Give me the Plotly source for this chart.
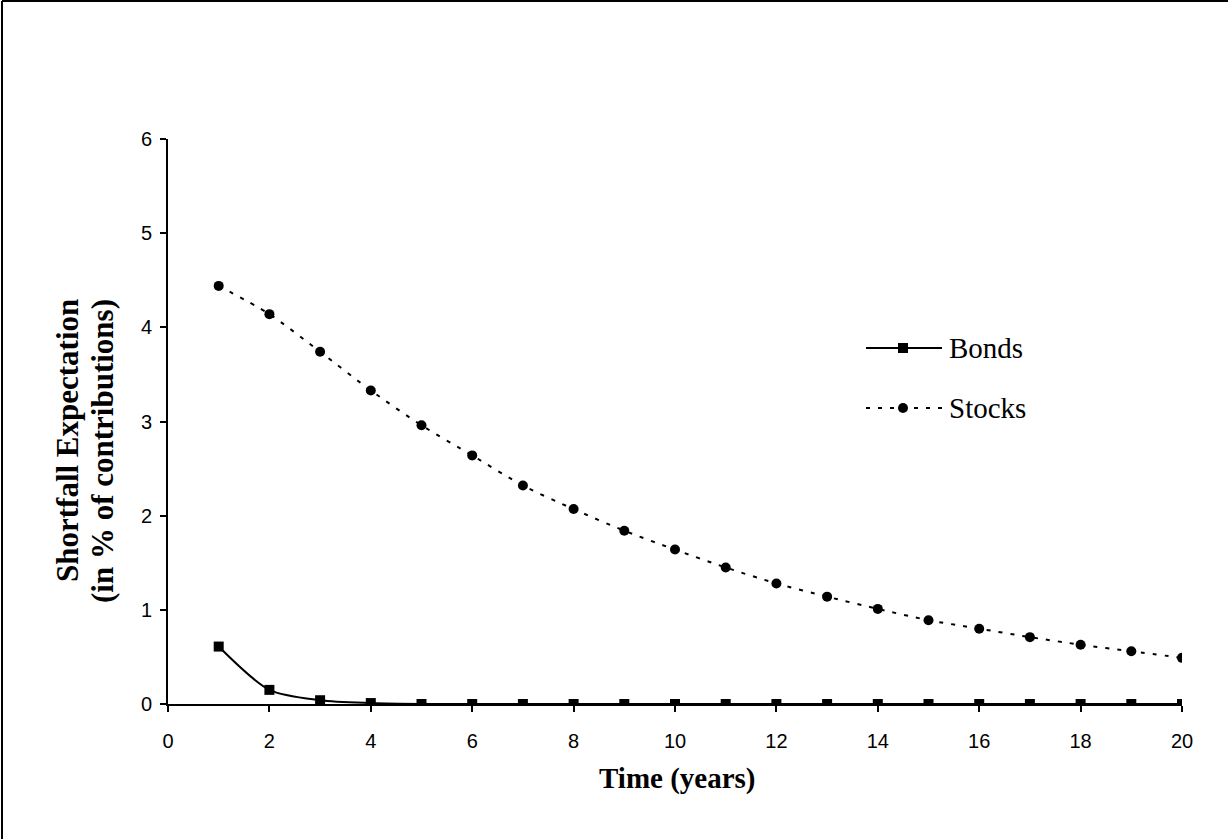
import plotly.graph_objects as go

years = list(range(1, 21))
bonds = [0.61, 0.15, 0.04, 0.01, 0, 0, 0, 0, 0, 0, 0, 0, 0, 0, 0, 0, 0, 0, 0, 0]
stocks = [4.44, 4.14, 3.74, 3.33, 2.96, 2.64, 2.32, 2.07, 1.84, 1.64,
          1.45, 1.28, 1.14, 1.01, 0.89, 0.80, 0.71, 0.63, 0.56, 0.49]
x_ticks = [0, 2, 4, 6, 8, 10, 12, 14, 16, 18, 20]
y_ticks = [0, 1, 2, 3, 4, 5, 6]
series_names = ["Bonds", "Stocks"]

W, H = 1228, 839
L, R, T, B = 168, 1182, 139, 704
pw, ph = R - L, B - T


def px(x):
    return (x - L) / pw


def py(y):
    return (B - y) / ph


DASH = "4px,8px"
fig = go.Figure()
fig.add_trace(go.Scatter(
    x=years, y=bonds, name=series_names[0], mode="lines+markers",
    line=dict(color="black", width=2, shape="spline", smoothing=0.8),
    marker=dict(symbol="square", size=10, color="black")))
fig.add_trace(go.Scatter(
    x=years, y=stocks, name=series_names[1], mode="lines+markers",
    line=dict(color="black", width=2, dash=DASH, shape="spline", smoothing=0.8),
    marker=dict(symbol="circle", size=10, color="black")))

serif = "Liberation Serif, Times New Roman, serif"
sans = "Liberation Sans, Arial, sans-serif"

# manual legend (styling only)
leg_y = [348, 408]
shapes = [
    dict(type="line", xref="paper", yref="paper",
         x0=px(2), x1=px(2), y0=py(1), y1=py(H + 5),
         line=dict(color="black", width=2)),
    dict(type="line", xref="paper", yref="paper",
         x0=px(2), x1=px(W), y0=py(1), y1=py(1),
         line=dict(color="black", width=2)),
    dict(type="line", xref="paper", yref="paper",
         x0=px(866), x1=px(942), y0=py(leg_y[0]), y1=py(leg_y[0]),
         line=dict(color="black", width=2)),
    dict(type="rect", xref="paper", yref="paper",
         x0=px(898), x1=px(908), y0=py(leg_y[0] - 5), y1=py(leg_y[0] + 5),
         line=dict(color="black", width=0), fillcolor="black"),
    dict(type="line", xref="paper", yref="paper",
         x0=px(866), x1=px(942), y0=py(leg_y[1]), y1=py(leg_y[1]),
         line=dict(color="black", width=2, dash=DASH)),
    dict(type="circle", xref="paper", yref="paper",
         x0=px(898), x1=px(908), y0=py(leg_y[1] - 5), y1=py(leg_y[1] + 5),
         line=dict(color="black", width=0), fillcolor="black"),
]

annotations = [
    dict(text="<b>Time (years)</b>", xref="paper", yref="paper",
         x=px(677), y=py(778), xanchor="center", yanchor="middle",
         showarrow=False, font=dict(family=serif, size=29, color="black")),
    dict(text="<b>Shortfall Expectation</b>", xref="paper", yref="paper",
         x=px(67), y=py(441), xanchor="center", yanchor="middle",
         textangle=-90, showarrow=False,
         font=dict(family=serif, size=31, color="black")),
    dict(text="<b>(in % of contributions)</b>", xref="paper", yref="paper",
         x=px(102), y=py(451), xanchor="center", yanchor="middle",
         textangle=-90, showarrow=False,
         font=dict(family=serif, size=31, color="black")),
]
for name, yy in zip(series_names, leg_y):
    annotations.append(dict(text=name, xref="paper", yref="paper",
                            x=px(947), y=py(yy), xanchor="left", yanchor="middle",
                            showarrow=False,
                            font=dict(family=serif, size=29, color="black")))

fig.update_layout(
    width=W, height=H, autosize=False,
    margin=dict(l=L, r=W - R, t=T, b=H - B, pad=0),
    paper_bgcolor="white", plot_bgcolor="white",
    showlegend=False,
    xaxis=dict(range=[0, 20], tickvals=x_ticks, ticktext=[str(v) for v in x_ticks],
               showgrid=False, zeroline=False, showline=True, linecolor="black",
               linewidth=2, ticks="outside", ticklen=6, tickwidth=2, tickcolor="black",
               ticklabelstandoff=12,
               tickfont=dict(family=sans, size=20, color="black")),
    yaxis=dict(range=[0, 6], tickvals=y_ticks, ticktext=[str(v) for v in y_ticks],
               showgrid=False, zeroline=False, showline=True, linecolor="black",
               linewidth=2, ticks="outside", ticklen=6, tickwidth=2, tickcolor="black",
               ticklabelstandoff=4,
               tickfont=dict(family=sans, size=20, color="black")),
    annotations=annotations,
    shapes=shapes,
)

fig.write_html("out.html", config={"displayModeBar": False},
               post_script="document.body.style.margin='0';document.body.style.overflow='hidden';")
